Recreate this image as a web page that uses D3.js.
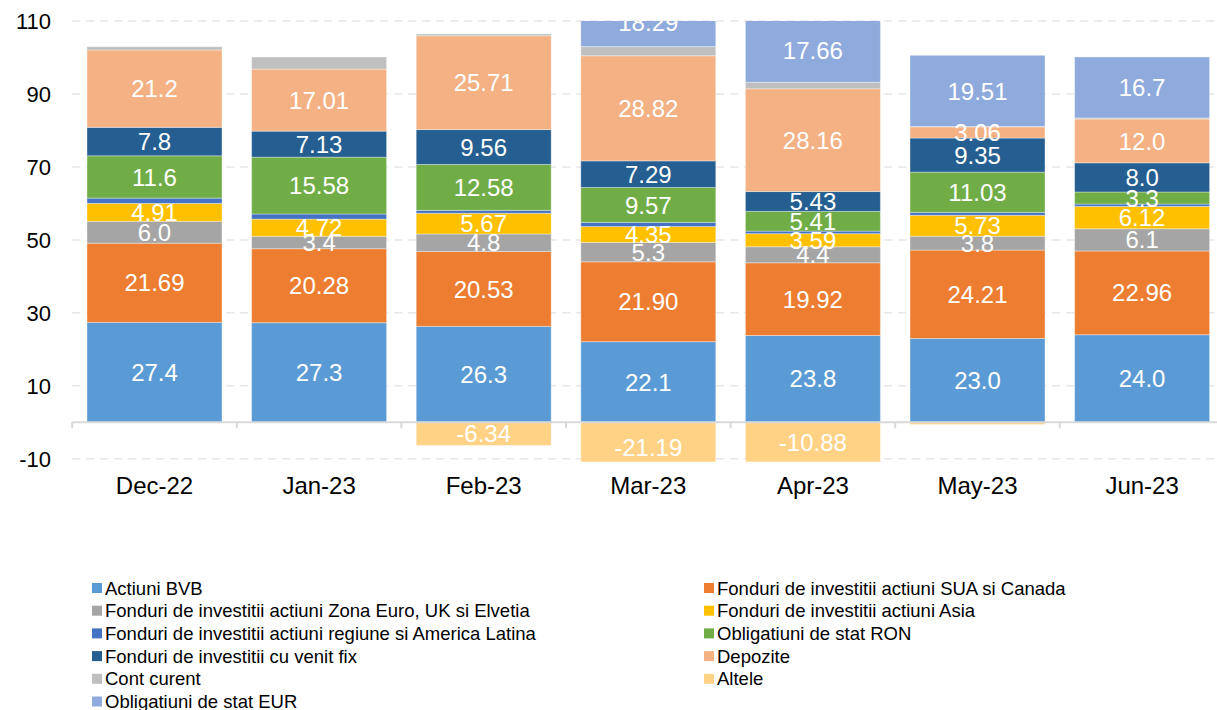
<!DOCTYPE html>
<html>
<head>
<meta charset="utf-8">
<script src="https://cdn.jsdelivr.net/npm/d3@7/dist/d3.min.js"></script>
<style>
  html, body { margin: 0; padding: 0; background: #fff; }
  svg { display: block; font-family: "Liberation Sans", Arial, sans-serif; }
</style>
</head>
<body>
<svg id="chart" width="1217" height="710"></svg>
<script>
// ---------- DATA ----------
const categories = ["Dec-22", "Jan-23", "Feb-23", "Mar-23", "Apr-23", "May-23", "Jun-23"];

const actiuniBVB   = [27.4, 27.3, 26.3, 22.1, 23.8, 23.0, 24.0];
const fonduriSUA   = [21.69, 20.28, 20.53, 21.90, 19.92, 24.21, 22.96];
const fonduriEuro  = [6.0, 3.4, 4.8, 5.3, 4.4, 3.8, 6.1];
const fonduriAsia  = [4.91, 4.72, 5.67, 4.35, 3.59, 5.73, 6.12];
const fonduriLatAm = [1.45, 1.4, 0.8, 1.15, 0.7, 0.8, 0.65];
const obligRON     = [11.6, 15.58, 12.58, 9.57, 5.41, 11.03, 3.3];
const venitFix     = [7.8, 7.13, 9.56, 7.29, 5.43, 9.35, 8.0];
const depozite     = [21.2, 17.01, 25.71, 28.82, 28.16, 3.06, 12.0];
const contCurent   = [0.9, 3.3, 0.5, 2.5, 1.8, 0.1, 0.3];
const obligEUR     = [0, 0, 0, 18.29, 17.66, 19.51, 16.7];
const altele       = [0, 0, -6.34, -21.19, -10.88, -0.6, 0];

// decimals shown in the data labels (null = no label)
const actiuniBVBDigits   = [1, 1, 1, 1, 1, 1, 1];
const fonduriSUADigits   = [2, 2, 2, 2, 2, 2, 2];
const fonduriEuroDigits  = [1, 1, 1, 1, 1, 1, 1];
const fonduriAsiaDigits  = [2, 2, 2, 2, 2, 2, 2];
const fonduriLatAmDigits = [null, null, null, null, null, null, null];
const obligRONDigits     = [1, 2, 2, 2, 2, 2, 1];
const venitFixDigits     = [1, 2, 2, 2, 2, 2, 1];
const depoziteDigits     = [1, 2, 2, 2, 2, 2, 1];
const contCurentDigits   = [null, null, null, null, null, null, null];
const obligEURDigits     = [null, null, null, 2, 2, 2, 1];
const alteleDigits       = [null, null, 2, 2, 2, null, null];

const seriesNames = [
  "Actiuni BVB",
  "Fonduri de investitii actiuni SUA si Canada",
  "Fonduri de investitii actiuni Zona Euro, UK si Elvetia",
  "Fonduri de investitii actiuni Asia",
  "Fonduri de investitii actiuni regiune si America Latina",
  "Obligatiuni de stat RON",
  "Fonduri de investitii cu venit fix",
  "Depozite",
  "Cont curent",
  "Obligatiuni de stat EUR",
  "Altele"
];
const seriesColors = ["#5b9bd5", "#ed7d31", "#a5a5a5", "#ffc000", "#4472c4", "#70ad47",
                      "#255e91", "#f4b183", "#bfbfbf", "#8faadc", "#ffd285"];
const seriesValues = [actiuniBVB, fonduriSUA, fonduriEuro, fonduriAsia, fonduriLatAm, obligRON,
                      venitFix, depozite, contCurent, obligEUR, altele];
const seriesDigits = [actiuniBVBDigits, fonduriSUADigits, fonduriEuroDigits, fonduriAsiaDigits,
                      fonduriLatAmDigits, obligRONDigits, venitFixDigits, depoziteDigits,
                      contCurentDigits, obligEURDigits, alteleDigits];
// legend order (two columns, row-major)
const legendOrder = [0, 1, 2, 3, 4, 5, 6, 7, 8, 10, 9];

const yTicks = [-10, 10, 30, 50, 70, 90, 110];
const yMin = -10.8, yMax = 110;

// ---------- LAYOUT ----------
const svg = d3.select("#chart");
const plot = { left: 72.2, right: 1224.4, top: 21, bottom: 461.7 };

const x = d3.scaleBand().domain(categories)
  .range([plot.left, plot.right]).paddingInner(0.18).paddingOuter(0.09);
const y = d3.scaleLinear().domain([yMin, yMax]).range([plot.bottom, plot.top]);

const table = categories.map((c, i) => {
  const row = { cat: c };
  seriesNames.forEach((n, k) => row[n] = seriesValues[k][i]);
  return row;
});
const stacked = d3.stack().keys(seriesNames).offset(d3.stackOffsetDiverging)(table);

svg.append("defs").append("clipPath").attr("id", "plotClip")
  .append("rect").attr("x", 0).attr("y", plot.top)
  .attr("width", 1217).attr("height", plot.bottom - plot.top);

// gridlines
svg.append("g").selectAll("line").data(yTicks).join("line")
  .attr("x1", plot.left).attr("x2", 1217)
  .attr("y1", d => y(d)).attr("y2", d => y(d))
  .attr("stroke", "#e6e6e6").attr("stroke-width", 1.5)
  .attr("stroke-dasharray", "8,6");

// y tick labels
svg.append("g").selectAll("text").data(yTicks).join("text")
  .attr("x", 51).attr("y", d => y(d) + 8)
  .attr("text-anchor", "end").attr("font-size", 22).attr("fill", "#000")
  .text(d => d);

// bars
const barsG = svg.append("g").attr("clip-path", "url(#plotClip)");
stacked.forEach((s, k) => {
  barsG.append("g").selectAll("rect").data(s).join("rect")
    .attr("x", d => x(d.data.cat))
    .attr("width", x.bandwidth())
    .attr("y", d => y(Math.max(d[0], d[1])))
    .attr("height", d => Math.abs(y(d[0]) - y(d[1])))
    .attr("fill", seriesColors[k])
    .attr("stroke", "#ffffff").attr("stroke-opacity", 0.35).attr("stroke-width", 1);
});

// x axis line + ticks
const y0 = y(0);
svg.append("line").attr("x1", plot.left).attr("x2", plot.right)
  .attr("y1", y0).attr("y2", y0).attr("stroke", "#d9d9d9").attr("stroke-width", 2);
const boundaries = categories.map(c => x(c) - x.step() * x.paddingInner() / 2);
svg.append("g").selectAll("line").data(boundaries).join("line")
  .attr("x1", d => d).attr("x2", d => d)
  .attr("y1", y0).attr("y2", y0 + 6)
  .attr("stroke", "#d9d9d9").attr("stroke-width", 2);

// category labels
svg.append("g").selectAll("text").data(categories).join("text")
  .attr("x", d => x(d) + x.bandwidth() / 2).attr("y", 494)
  .attr("text-anchor", "middle").attr("font-size", 24).attr("fill", "#000")
  .text(d => d);

// data labels
const labG = svg.append("g").attr("clip-path", "url(#plotClip)");
stacked.forEach((s, k) => {
  s.forEach((d, i) => {
    const dig = seriesDigits[k][i];
    if (dig === null || dig === undefined) return;
    const v = seriesValues[k][i];
    let cy = (y(d[0]) + y(d[1])) / 2;
    cy = Math.max(plot.top + 1.5, Math.min(plot.bottom - 14, cy));
    labG.append("text")
      .attr("x", x(d.data.cat) + x.bandwidth() / 2)
      .attr("y", cy + 8.6)
      .attr("text-anchor", "middle").attr("font-size", 24).attr("fill", "#fff")
      .text(v.toFixed(dig));
  });
});

// legend
const legG = svg.append("g");
legendOrder.forEach((k, idx) => {
  const col = idx % 2, row = Math.floor(idx / 2);
  const lx = col === 0 ? 92 : 704;
  const ly = 588 + row * 22.7;
  legG.append("rect").attr("x", lx).attr("y", ly - 5).attr("width", 10).attr("height", 10)
    .attr("fill", seriesColors[k]);
  legG.append("text").attr("x", lx + 13).attr("y", ly + 6.5)
    .attr("font-size", 18.5).attr("fill", "#000").text(seriesNames[k]);
});
</script>
</body>
</html>
